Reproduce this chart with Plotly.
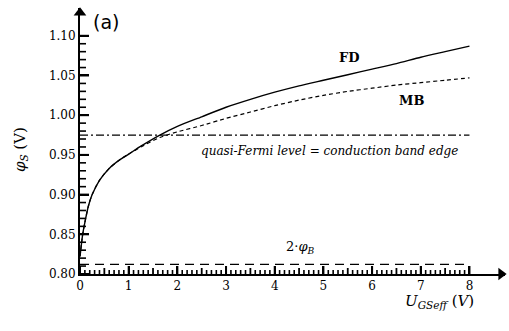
import plotly.graph_objects as go

# ---- data ----
fd_x = [0, 0.03, 0.055, 0.1, 0.17, 0.25, 0.4, 0.6, 0.82, 1.0, 1.25, 1.64, 2.0, 2.5, 3.0, 3.5, 4.0, 4.5, 5.0, 5.5, 6.0, 6.5, 7.0, 7.5, 8.0]
fd_y = [0.822, 0.838, 0.850, 0.865, 0.885, 0.900, 0.918, 0.933, 0.944, 0.951, 0.961, 0.975, 0.986, 0.998, 1.010, 1.020, 1.029, 1.037, 1.044, 1.051, 1.058, 1.065, 1.073, 1.080, 1.087]

mb_x = [0, 0.03, 0.055, 0.1, 0.17, 0.25, 0.4, 0.6, 0.82, 1.0, 1.25, 1.64, 2.0, 2.5, 3.0, 3.5, 4.0, 4.5, 5.0, 5.5, 6.0, 6.5, 7.0, 7.5, 8.0]
mb_y = [0.822, 0.838, 0.850, 0.865, 0.885, 0.900, 0.918, 0.933, 0.944, 0.951, 0.960, 0.972, 0.979, 0.987, 0.996, 1.004, 1.012, 1.019, 1.025, 1.030, 1.034, 1.038, 1.041, 1.044, 1.047]

fermi_level = 0.975
two_phi_b = 0.812
x_line = [0, 8]

x_ticks = [0, 1, 2, 3, 4, 5, 6, 7, 8]
y_ticks = [0.80, 0.85, 0.90, 0.95, 1.00, 1.05, 1.10]

X_MAX = 8.73
Y_MIN, Y_MAX = 0.80, 1.135

serif = "DejaVu Serif"

minor_x = [i / 10 for i in range(1, 81) if i % 5 != 0]
half_x = [i + 0.5 for i in range(8)]
minor_y = [round(0.80 + i / 100, 2) for i in range(1, 31) if i % 5 != 0]

# tick lengths converted from pixels to data units (plot area 425 x 266 px)
PX_X = X_MAX / 425.0
PX_Y = (Y_MAX - Y_MIN) / 266.0


def x_tick_path(vals, length_px):
    xs, ys = [], []
    for v in vals:
        xs += [v, v, None]
        ys += [Y_MIN, Y_MIN + length_px * PX_Y, None]
    return xs, ys


def y_tick_path(vals, length_px):
    xs, ys = [], []
    for v in vals:
        xs += [0, length_px * PX_X, None]
        ys += [v, v, None]
    return xs, ys


fig = go.Figure()
fig.add_trace(go.Scatter(x=fd_x, y=fd_y, mode="lines", line=dict(color="black", width=1.4, shape="spline", smoothing=0.6)))
fig.add_trace(go.Scatter(x=mb_x, y=mb_y, mode="lines", line=dict(color="black", width=1.2, dash="4px,3px", shape="spline", smoothing=0.6)))
fig.add_trace(go.Scatter(x=x_line, y=[fermi_level, fermi_level], mode="lines", line=dict(color="black", width=1.2, dash="8px,3px,2px,3px")))
fig.add_trace(go.Scatter(x=x_line, y=[two_phi_b, two_phi_b], mode="lines", line=dict(color="black", width=1.2, dash="9px,6px")))

# tick marks drawn as line traces
for vals, ln, w in [(x_ticks, 8, 2), (half_x, 6, 1.8), (minor_x, 4, 1.6)]:
    tx, ty = x_tick_path(vals, ln)
    fig.add_trace(go.Scatter(x=tx, y=ty, mode="lines", line=dict(color="black", width=w), hoverinfo="skip"))
for vals, ln, w in [(y_ticks, 9, 2), (minor_y, 6, 1.6)]:
    tx, ty = y_tick_path(vals, ln)
    fig.add_trace(go.Scatter(x=tx, y=ty, mode="lines", line=dict(color="black", width=w), hoverinfo="skip"))

# axis arrowheads
fig.add_trace(go.Scatter(x=[X_MAX - 0.08], y=[Y_MIN], mode="markers", cliponaxis=False,
                         marker=dict(symbol="triangle-right", size=11, color="black", line=dict(width=0)), hoverinfo="skip"))
fig.add_trace(go.Scatter(x=[0], y=[Y_MAX - 0.006], mode="markers", cliponaxis=False,
                         marker=dict(symbol="triangle-up", size=11, color="black", line=dict(width=0)), hoverinfo="skip"))

fig.update_layout(
    width=509, height=331,
    margin=dict(l=80, r=4, t=8, b=57),
    paper_bgcolor="white", plot_bgcolor="white",
    showlegend=False,
    xaxis=dict(range=[0, X_MAX], showgrid=False, zeroline=False, showline=True, linecolor="black", linewidth=2,
               tickvals=x_ticks, ticks="inside", ticklen=8, tickcolor="black", tickwidth=2,
               tickfont=dict(family=serif, size=12, color="black")),
    yaxis=dict(range=[Y_MIN, Y_MAX], showgrid=False, zeroline=False, showline=True, linecolor="black", linewidth=2,
               tickvals=y_ticks, tickformat=".2f", ticks="inside", ticklen=9, tickcolor="black", tickwidth=2,
               tickfont=dict(family=serif, size=12, color="black")),
)

ann_font = dict(family=serif, size=13, color="black")
fig.add_annotation(x=0.53, y=1.117, xref="x", yref="y", text="(a)", showarrow=False,
                   font=dict(family="DejaVu Sans", size=19, color="black"))
fig.add_annotation(x=5.54, y=1.073, xref="x", yref="y", text="<b>FD</b>", showarrow=False, font=ann_font)
fig.add_annotation(x=6.8, y=1.019, xref="x", yref="y", text="<b>MB</b>", showarrow=False, font=ann_font)
fig.add_annotation(x=5.13, y=0.955, xref="x", yref="y", text="<i>quasi-Fermi level = conduction band edge</i>",
                   showarrow=False, font=dict(family=serif, size=12, color="black"))
fig.add_annotation(x=4.52, y=0.834, xref="x", yref="y", text="2·<i>φ<sub>B</sub></i>", showarrow=False, font=ann_font)
fig.add_annotation(x=-0.141, y=0.466, xref="paper", yref="paper", text="<i>φ<sub>S</sub></i> (V)", textangle=-90,
                   showarrow=False, xanchor="center", yanchor="middle", font=dict(family=serif, size=15, color="black"))
fig.add_annotation(x=0.847, y=-0.105, xref="paper", yref="paper", text="<i>U<sub>GSeff</sub></i> (<i>V</i>)",
                   showarrow=False, xanchor="center", yanchor="middle", font=dict(family=serif, size=15, color="black"))

fig.write_html("out.html")
